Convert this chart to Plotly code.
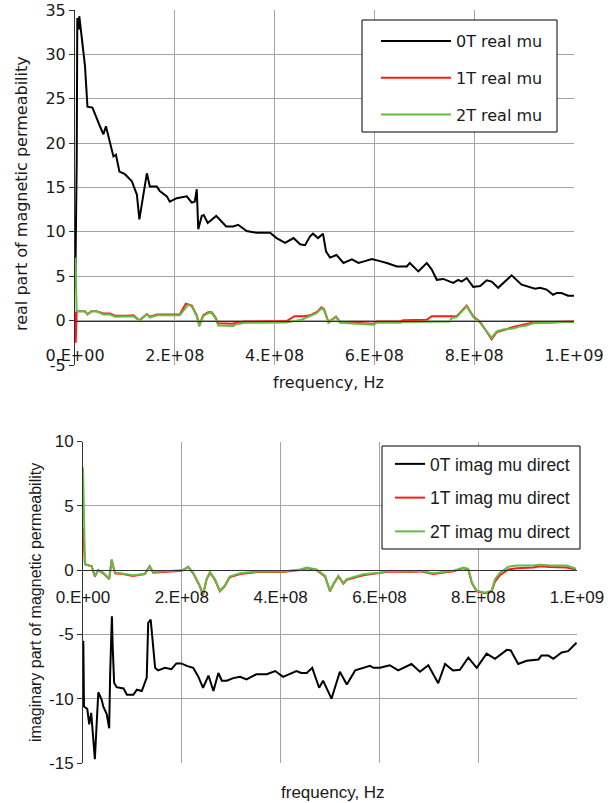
import plotly.graph_objects as go

# ---------------- data ----------------
# frequencies in MHz, values = permeability
re0_f = [0.5, 3.4, 4.6, 7.4, 8.6, 15, 20, 25, 35, 50, 57, 62, 70, 77, 82, 89, 100, 114, 120, 124,
         129, 134, 144, 150, 164, 170, 184, 190, 204, 224, 234, 240, 244, 247, 254, 258, 266, 283, 303, 317,
         327, 344, 364, 391, 404, 421, 438, 451, 461, 471, 477, 487, 497, 503, 511, 524, 538, 555, 568, 581,
         595, 611, 625, 645, 665, 671, 688, 705, 715, 725, 738, 758, 768, 775, 785, 798, 812, 825, 835, 848,
         875, 895, 908, 922, 932, 945, 958, 965, 975, 988, 1000]
re0_v = [3.8, 17.8, 34.1, 32.8, 34.3, 31.3, 28.7, 24.1, 24.0, 21.9, 21.0, 21.9, 20.0, 18.5, 18.7, 16.8, 16.5, 15.7, 14.8, 14.2,
         11.4, 13.3, 16.6, 15.1, 15.1, 14.6, 14.0, 13.4, 13.8, 14.0, 13.3, 13.4, 14.8, 10.3, 11.8, 11.9, 11.0, 11.8, 10.6, 10.6,
         10.8, 10.1, 9.9, 9.9, 9.3, 8.75, 9.3, 8.6, 8.5, 9.5, 9.8, 9.3, 9.8, 7.8, 7.1, 7.4, 6.5, 6.9, 6.5, 6.7,
         6.95, 6.7, 6.5, 6.1, 6.1, 6.5, 5.55, 6.5, 5.75, 4.6, 4.7, 4.25, 4.6, 4.4, 4.8, 3.8, 3.9, 4.55, 4.4, 3.7,
         5.1, 4.05, 3.8, 3.6, 3.7, 3.5, 2.9, 3.1, 3.1, 2.8, 2.8]

re1_f = [0.5, 1.5, 3.4, 20, 25, 33, 43, 57, 70, 80, 104, 117, 129, 144, 150, 164, 210, 222, 234, 244,
         249, 257, 267, 274, 281, 287, 317, 323, 341, 424, 440, 460, 471, 484, 494, 499, 508, 523, 531, 545,
         598, 605, 651, 658, 705, 715, 750, 765, 785, 798, 812, 835, 845, 858, 878, 892, 905, 918, 958, 978, 1000]
re1_v = [1.0, -2.5, 1.05, 1.05, 0.7, 1.05, 1.05, 0.8, 0.8, 0.55, 0.55, 0.6, 0.05, 0.75, 0.45, 0.7, 0.7, 1.9, 1.7, 0.6,
         -0.5, 0.6, 0.95, 0.95, 0.4, -0.3, -0.35, -0.2, -0.1, -0.05, 0.5, 0.5, 0.6, 0.95, 1.5, 1.3, -0.15, 0.45, -0.15, -0.2,
         -0.35, -0.1, -0.1, 0.05, 0.1, 0.5, 0.5, 0.5, 1.7, 0.5, -0.15, -2.1, -1.3, -1.1, -0.7, -0.5, -0.4, -0.2, -0.15, -0.1, -0.1]

re2_f = [0.5, 3.4, 20, 25, 33, 43, 57, 70, 80, 104, 117, 129, 144, 150, 164, 210, 227, 234, 244, 249,
         257, 267, 274, 281, 287, 317, 323, 341, 424, 454, 471, 484, 494, 499, 508, 523, 531, 545, 598, 605,
         651, 658, 750, 755, 765, 785, 798, 812, 835, 845, 858, 878, 892, 905, 918, 958, 978, 1000]
re2_v = [7.1, 1.05, 1.05, 0.7, 1.05, 1.05, 0.7, 0.7, 0.45, 0.45, 0.5, 0.0, 0.7, 0.35, 0.6, 0.6, 1.8, 1.6, 0.5, -0.65,
         0.5, 0.85, 0.85, 0.3, -0.55, -0.6, -0.4, -0.25, -0.2, 0.1, 0.5, 0.85, 1.4, 1.2, -0.25, 0.4, -0.25, -0.3, -0.45, -0.25,
         -0.25, -0.15, -0.1, 0.3, 0.4, 1.6, 0.4, -0.25, -1.95, -1.2, -1.0, -0.9, -0.65, -0.55, -0.3, -0.25, -0.15, -0.15]

im0_f = [0.6, 2, 8.7, 12.6, 16.6, 21, 24, 26, 31, 38, 41, 48, 53, 55, 58.5, 60, 63, 68, 82, 89,
         102, 109, 119, 129, 132, 137, 142, 146, 152, 166, 179, 189, 199, 210, 223,
         233, 243, 254, 264, 274, 281, 291, 304, 318, 331, 351, 372, 389, 405, 432, 442, 453, 464, 478, 486,
         493, 503, 520, 534, 551, 567, 581, 588, 601, 621, 638, 665, 682, 699, 719, 733, 749, 763, 780, 797,
         817, 834, 858, 866, 881, 898, 922, 928, 942, 952, 969, 982, 996, 999]
im0_v = [-5.5, -10.6, -10.8, -12.0, -11.1, -12.9, -14.7, -13.2, -9.5, -10.1, -10.6, -11.2, -12.3, -8.0, -3.6, -5.8, -8.75, -9.1, -9.2, -9.7,
         -9.7, -9.3, -9.4, -8.35, -4.1, -3.85, -6.2, -7.6, -7.8, -7.6, -7.7, -7.26, -7.26, -7.45, -7.6,
         -8.25, -9.15, -8.2, -9.4, -8.0, -8.6, -8.6, -8.4, -8.3, -8.5, -8.1, -8.1, -7.85, -8.3, -7.85, -8.0, -8.0, -7.6, -9.15, -8.6,
         -9.15, -10.0, -7.9, -8.9, -7.8, -7.6, -7.45, -7.6, -7.6, -7.4, -7.8, -7.3, -7.9, -7.4, -8.8, -7.3, -7.8, -7.75, -6.8, -7.6,
         -6.5, -6.9, -6.2, -6.25, -7.3, -7.05, -6.95, -6.65, -6.65, -6.9, -6.4, -6.3, -5.7, -5.65]

im1_f = [0, 4, 17.5, 24, 31, 41, 53, 58, 61, 65, 81, 101, 125, 135, 142, 162, 183, 200, 213, 223,
         237, 243, 250, 257, 267, 277, 287, 297, 318, 352, 405, 439, 453, 473, 490, 500, 507, 517, 527, 534,
         567, 588, 601, 621, 662, 682, 709, 750, 770, 780, 787, 797, 814, 827, 834, 844, 861, 878, 911, 925,
         945, 979, 998]
im1_v = [3.3, 0.45, 0.3, -0.5, 0, -0.25, -0.7, 0.8, 0.3, -0.25, -0.3, -0.45, -0.3, 0.3, -0.2, -0.15, -0.1, -0.05, 0.25, -0.25,
         -1.3, -1.95, -0.75, -0.2, -0.75, -1.65, -1.25, -0.55, -0.3, -0.15, -0.15, 0.0, 0.15, 0.0, -0.5, -1.65, -1.1, -0.5, -1.05, -0.75,
         -0.4, -0.3, -0.25, -0.1, -0.15, -0.1, -0.3, -0.1, 0.15, 0.05, -1.0, -1.65, -1.8, -1.65, -0.9, -0.4, 0.05, 0.15, 0.2, 0.3,
         0.25, 0.2, 0.05]

im2_f = list(im1_f)
im2_v = [8.0, 0.45, 0.3, -0.45, 0, -0.2, -0.67, 0.83, 0.3, -0.2, -0.28, -0.4, -0.3, 0.26, -0.15, -0.12, -0.05, 0, 0.2, -0.2,
         -1.25, -1.9, -0.7, -0.15, -0.7, -1.6, -1.2, -0.5, -0.25, -0.1, -0.1, 0.05, 0.2, 0.05, -0.45, -1.6, -1.05, -0.45, -1.0, -0.7,
         -0.33, -0.25, -0.2, -0.05, -0.1, -0.05, -0.25, -0.05, 0.2, 0.1, -0.95, -1.6, -1.75, -1.6, -0.7, -0.2, 0.26, 0.35, 0.35, 0.42,
         0.35, 0.35, 0.1]

x_tick_vals = [0, 2e8, 4e8, 6e8, 8e8, 1e9]
x_tick_text = ["0.E+00", "2.E+08", "4.E+08", "6.E+08", "8.E+08", "1.E+09"]
y1_tick_vals = [-5, 0, 5, 10, 15, 20, 25, 30, 35]
y1_tick_text = ["-5", "0", "5", "10", "15", "20", "25", "30", "35"]
y2_tick_vals = [-15, -10, -5, 0, 5, 10]
y2_tick_text = ["-15", "-10", "-5", "0", "5", "10"]

top_names = ["0T real mu", "1T real mu", "2T real mu"]
bot_names = ["0T imag mu direct", "1T imag mu direct", "2T imag mu direct"]
colors = ["#000000", "#ff1a1a", "#66bb44"]

MHZ = 1e6

# ---------------- layout geometry ----------------
W, H = 610, 803

def px(x):
    return x / W

def py(y):
    return 1 - y / H

x1_dom = [px(75), px(574)]
y1_dom = [py(365), py(10)]
x2_dom = [px(83), px(577)]
y2_dom = [py(763), py(441.5)]
y1_rng = [-5, 35]
y2_rng = [-15, 10]

def zero_pos(dom, rng):
    return dom[0] + (0 - rng[0]) / (rng[1] - rng[0]) * (dom[1] - dom[0])

TOPFONT = "DejaVu Sans"
BOTFONT = "Liberation Sans, Arial"
GRID = "#a4a4a4"
TXT = "#1a1a1a"

fig = go.Figure()

top_series = [(re0_f, re0_v), (re1_f, re1_v), (re2_f, re2_v)]
for i, (f, v) in enumerate(top_series):
    fig.add_trace(go.Scatter(
        x=[a * MHZ for a in f], y=v, mode="lines", name=top_names[i],
        line=dict(color=colors[i], width=2), xaxis="x", yaxis="y",
        legend="legend", legendgroup="t%d" % i))

bot_series = [(im0_f, im0_v), (im1_f, im1_v), (im2_f, im2_v)]
for i, (f, v) in enumerate(bot_series):
    fig.add_trace(go.Scatter(
        x=[a * MHZ for a in f], y=v, mode="lines", name=bot_names[i],
        line=dict(color=colors[i], width=2), xaxis="x2", yaxis="y2",
        legend="legend2", legendgroup="b%d" % i))

common_x = dict(range=[0, 1e9], anchor="free", showline=True, linecolor="#303030", linewidth=1,
                ticks="", showgrid=True, gridcolor=GRID, gridwidth=1, zeroline=False,
                tickvals=x_tick_vals, ticktext=x_tick_text, automargin=False, fixedrange=True,
                ticklabeloverflow="allow")
common_y = dict(showline=True, linecolor="#303030", linewidth=1, ticks="outside", ticklen=5,
                tickcolor="#303030", showgrid=True, gridcolor=GRID, gridwidth=1, zeroline=False,
                automargin=False, fixedrange=True, ticklabeloverflow="allow")

fig.update_layout(
    template="none",
    width=W, height=H,
    margin=dict(l=0, r=0, t=0, b=0, pad=0, autoexpand=False),
    paper_bgcolor="white", plot_bgcolor="white",
    hovermode=False,
    xaxis=dict(domain=x1_dom, position=zero_pos(y1_dom, y1_rng), ticklabelstandoff=20,
               tickfont=dict(family=TOPFONT, size=16, color=TXT), **common_x),
    yaxis=dict(domain=y1_dom, range=y1_rng, anchor="x",
               tickvals=y1_tick_vals, ticktext=y1_tick_text,
               tickfont=dict(family=TOPFONT, size=16, color=TXT), **common_y),
    xaxis2=dict(domain=x2_dom, position=zero_pos(y2_dom, y2_rng), ticklabelstandoff=11,
                tickfont=dict(family=BOTFONT, size=17, color=TXT), **common_x),
    yaxis2=dict(domain=y2_dom, range=y2_rng, anchor="x2",
                tickvals=y2_tick_vals, ticktext=y2_tick_text,
                tickfont=dict(family=BOTFONT, size=17, color=TXT), **common_y),
    legend=dict(x=px(376), y=py(24), xanchor="left", yanchor="top",
                bgcolor="rgba(0,0,0,0)", borderwidth=0,
                font=dict(family=TOPFONT, size=16, color=TXT),
                itemwidth=70, tracegroupgap=13),
    legend2=dict(x=px(390), y=py(446), xanchor="left", yanchor="top",
                 bgcolor="rgba(0,0,0,0)", borderwidth=0,
                 font=dict(family=BOTFONT, size=17.5, color=TXT),
                 itemwidth=30, tracegroupgap=8),
    showlegend=True,
)

# legend frames (white boxes with black border)
fig.add_shape(type="rect", xref="paper", yref="paper", layer="above",
              x0=px(362), x1=px(557), y0=py(132), y1=py(20),
              line=dict(color="#000000", width=1), fillcolor="white")
fig.add_shape(type="rect", xref="paper", yref="paper", layer="above",
              x0=px(382), x1=px(580), y0=py(549), y1=py(446),
              line=dict(color="#000000", width=1), fillcolor="white")

annots = [
    dict(text="real part of magnetic permeability", x=px(22), y=py(194), textangle=-90,
         font=dict(family=TOPFONT, size=16, color=TXT)),
    dict(text="frequency, Hz", x=px(328), y=py(382),
         font=dict(family=TOPFONT, size=16, color=TXT)),
    dict(text="imaginary part of magnetic permeability", x=px(35), y=py(603), textangle=-90,
         font=dict(family=BOTFONT, size=16, color=TXT)),
    dict(text="frequency, Hz", x=px(333), y=py(792),
         font=dict(family=BOTFONT, size=17, color=TXT)),
]
for a in annots:
    fig.add_annotation(xref="paper", yref="paper", showarrow=False,
                       xanchor="center", yanchor="middle", **a)

# remove the default page margin so the 610x803 figure fills the window exactly
fig.write_html("out.html", config={"displayModeBar": False, "staticPlot": True},
               post_script="document.body.style.margin='0px';")
